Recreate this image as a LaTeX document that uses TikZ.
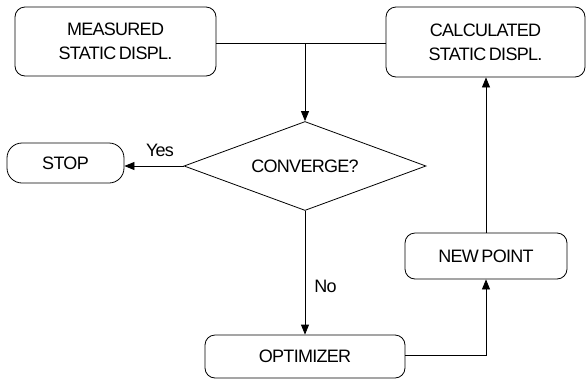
\documentclass[tikz,border=0pt]{standalone}
\usepackage{fontspec}
\setmainfont{Liberation Sans}[LetterSpace=-4,WordSpace=0.6]
\usetikzlibrary{shapes.geometric,arrows.meta}
\begin{document}
\begin{tikzpicture}[x=1pt,y=-1pt,
  txt/.style={font=\fontsize{18}{24}\selectfont},
  box/.style={draw,rounded corners=10pt,inner sep=0pt,align=center,txt},
  pill/.style={draw,rounded corners=15pt,inner sep=0pt,align=center,txt},
  lbl/.style={txt,inner sep=0pt},
  conn/.style={line width=0.8pt},
  arr/.style={line width=0.8pt,-{Triangle[length=10pt,width=8pt]}},
  every path/.style={line width=0.8pt}]
\useasboundingbox (0,0) rectangle (586,381);
\node[box,minimum width=201pt,minimum height=69pt] (meas) at (115.5,41.5) {MEASURED\\STATIC DISPL.};
\node[box,minimum width=199pt,minimum height=70pt] (calc) at (485.5,42) {CALCULATED\\STATIC DISPL.};
\node[draw,diamond,inner sep=0pt,minimum width=242pt,minimum height=89pt,shape aspect=2.72,
  txt] (conv) at (305,166) {CONVERGE?};
\node[pill,minimum width=117pt,minimum height=40pt] (stop) at (65.5,163) {STOP};
\node[box,minimum width=200pt,minimum height=43pt] (opt) at (305,356.5) {OPTIMIZER};
\node[box,minimum width=162pt,minimum height=46pt] (newp) at (486,256) {NEW POINT};
\coordinate (j) at (305,43);
\coordinate (k) at (486,355);
\draw[conn] (meas.east |- j) -- (calc.west |- j);
\draw[arr] (j) -- (conv.north);
\draw[arr] (conv.west) -- (stop.east |- conv.west);
\node[lbl] (yes) at (160,150) {Yes};
\draw[arr] (conv.south) -- (opt.north);
\node[lbl] (no) at (325.5,286) {No};
\draw[arr] (opt.east |- k) -- (k) -- (newp.south);
\draw[arr] (newp.north) -- (calc.south -| newp.north);
\end{tikzpicture}
\end{document}
